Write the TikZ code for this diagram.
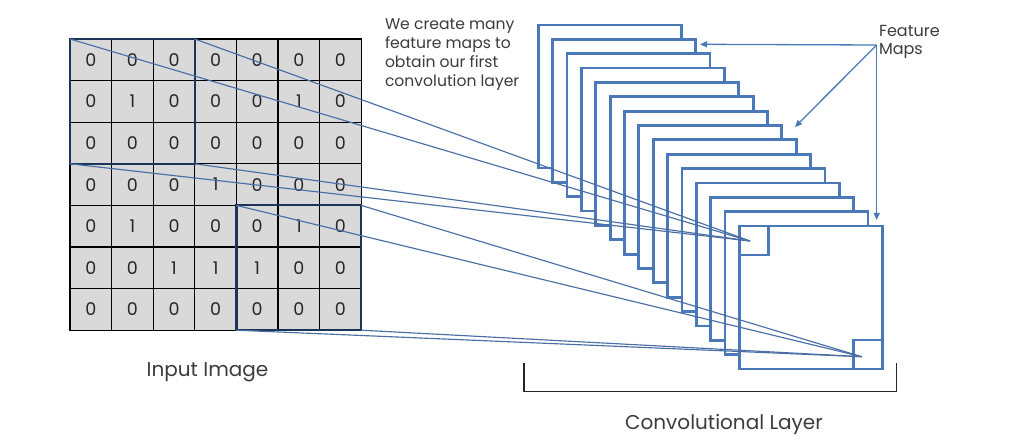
\documentclass[tikz,border=0pt]{standalone}
\usepackage{fontspec}
\setmainfont{Poppins}
\usetikzlibrary{arrows.meta}
\definecolor{fmblue}{HTML}{4A78B8}
\definecolor{lnblue}{HTML}{4A6FA5}
\definecolor{patchnavy}{HTML}{1C3458}
\definecolor{cellgray}{HTML}{D9D9D9}
\definecolor{txtgray}{HTML}{3C3C3C}
\begin{document}
\begin{tikzpicture}[x=1pt,y=-1pt,
  cell/.style={draw=black,line width=1.1pt,fill=cellgray,minimum size=41.6pt,inner sep=0pt,outer sep=0pt,anchor=north west,font=\fontsize{17.5}{17.5}\selectfont,text=black!85},
  patch/.style={draw=patchnavy,line width=2.2pt,minimum size=124.8pt,inner sep=0pt,outer sep=0pt,anchor=north west},
  fmap/.style={draw=fmblue,line width=2.8pt,fill=white,minimum size=143pt,inner sep=0pt,outer sep=0pt,anchor=north west},
  smallbox/.style={draw=fmblue,line width=2.8pt,minimum size=29pt,inner sep=0pt,outer sep=0pt,anchor=north west},
  conn/.style={draw=lnblue,line width=1.15pt},
  fmarrow/.style={draw=fmblue,line width=1.3pt,-{Triangle[length=7pt,width=6pt]}},
  label/.style={text=txtgray,inner sep=0pt,outer sep=0pt}]
\useasboundingbox (0,0) rectangle (1024,446);
\fill[white] (0,0) rectangle (1024,446);
% input grid
\foreach \row [count=\r from 0] in {{0,0,0,0,0,0,0},{0,1,0,0,0,1,0},{0,0,0,0,0,0,0},{0,0,0,1,0,0,0},{0,1,0,0,0,1,0},{0,0,1,1,1,0,0},{0,0,0,0,0,0,0}}{
  \foreach \v [count=\c from 0] in \row {
    \node[cell] (cell-\r-\c) at ({70+41.6*\c},{39+41.6*\r}) {\v};
  }
}
\node[patch] (p1) at (70,39) {};
\node[patch] (p2) at (236.4,205.4) {};
% feature map stack
\foreach \i in {0,...,14}{
  \node[fmap] (fm\i) at ({538.3+14.36*\i},{25+14.36*\i}) {};
}
\node[smallbox] (s1) at (fm14.north west) {};
\node[smallbox,anchor=south east] (s2) at (fm14.south east) {};
\coordinate (c1) at (750,241);
\coordinate (c2) at (861.7,356.7);
% connectors
\draw[conn] (p1.north west) -- (c1);
\draw[conn] (p1.north east) -- (c1);
\draw[conn] (p1.south west) -- (c1);
\draw[conn] (p1.south east) -- (c1);
\draw[conn] (p2.north west) -- (c2);
\draw[conn] (p2.north east) -- (c2);
\draw[conn] (p2.south west) -- (c2);
\draw[conn] (p2.south east) -- (c2);
% feature maps label and arrows
\node[label,anchor=north west,align=left,font=\fontsize{16}{18.7}\selectfont] (fmlabel) at (879,25) {Feature\\Maps};
\coordinate (fmsrc) at (876.7,45);
\coordinate (t1) at (700,44.3);
\coordinate (t2) at (795,127);
\coordinate (t3) at (876.7,220);
\draw[fmarrow] (fmsrc) -- (t1);
\draw[fmarrow] (fmsrc) -- (t2);
\draw[fmarrow] (fmsrc) -- (t3);
% explanation text
\node[label,anchor=north west,align=left,font=\fontsize{15.6}{19}\selectfont] (expl) at (385,18.5) {We create many\\feature maps to\\obtain our first\\convolution layer};
% bracket
\coordinate (b1) at (524,363);
\coordinate (b2) at (524,391.5);
\coordinate (b3) at (896.7,391.5);
\coordinate (b4) at (896.7,363);
\draw[black!85,line width=1.3pt] (b1) -- (b2) -- (b3) -- (b4);
% labels
\node[label,anchor=base,font=\fontsize{20}{20}\selectfont] (inlabel) at (207.5,376) {Input Image};
\node[label,anchor=base,font=\fontsize{20}{20}\selectfont] (convlabel) at (724,429.3) {Convolutional Layer};
\end{tikzpicture}
\end{document}
